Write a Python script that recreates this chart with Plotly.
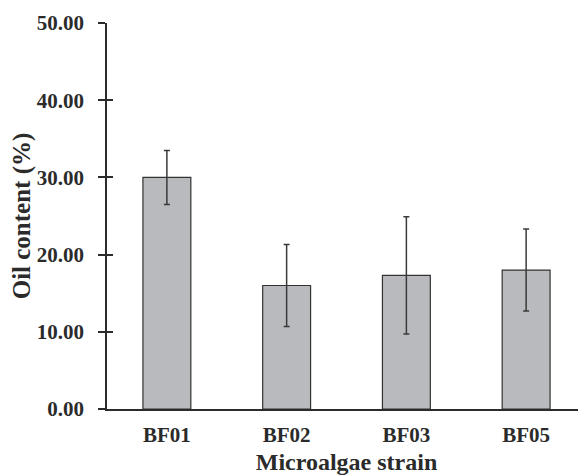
import plotly.graph_objects as go

strains = ["BF01", "BF02", "BF03", "BF05"]
oil_content = [30.0, 16.0, 17.3, 18.0]
oil_error = [3.5, 5.3, 7.6, 5.3]
y_ticks = [0, 10, 20, 30, 40, 50]

FONT = "Liberation Serif"
DARK = "#2b2b2b"

fig = go.Figure()
fig.add_trace(go.Bar(
    x=strains, y=oil_content,
    marker=dict(color="#b9babe", line=dict(color="#333333", width=1.2)),
    width=0.4,
    error_y=dict(type="data", array=oil_error, visible=True,
                 color="#3a3a3a", thickness=1.5, width=3),
))
# invisible trace for inside ticks on overlay axis
fig.add_trace(go.Scatter(x=strains, y=oil_content, yaxis="y2",
                         mode="markers", marker=dict(opacity=0),
                         hoverinfo="skip", showlegend=False))

# page body has an 8px margin, so the figure is sized/offset to compensate
fig.update_layout(
    width=578, height=467,
    margin=dict(l=99, r=0, t=15, b=66, autoexpand=False),
    paper_bgcolor="white", plot_bgcolor="white",
    showlegend=False,
    font=dict(family=FONT, color=DARK),
    xaxis=dict(
        range=[-0.5, 3.5], automargin=False,
        showline=True, linecolor=DARK, linewidth=1.5,
        ticks="", showgrid=False,
        tickfont=dict(family=FONT, size=21, color=DARK, weight="bold"),
        ticklabelstandoff=6,
        title=dict(text="<b>Microalgae strain</b>",
                   font=dict(family=FONT, size=24, color=DARK),
                   standoff=10),
    ),
    yaxis=dict(
        range=[0, 50], tickvals=y_ticks, tickformat=".2f", automargin=False,
        showline=True, linecolor=DARK, linewidth=1.5,
        ticks="outside", ticklen=7, tickwidth=1.5, tickcolor=DARK,
        showgrid=False, zeroline=False,
        tickfont=dict(family=FONT, size=21, color=DARK, weight="bold"),
        ticklabelstandoff=10,
        title=dict(text="<b>Oil content (%)</b>",
                   font=dict(family=FONT, size=25, color=DARK),
                   standoff=0),
    ),
    yaxis2=dict(
        range=[0, 50], tickvals=y_ticks, overlaying="y", side="left",
        showline=False, ticks="inside", ticklen=6, tickwidth=1.5,
        tickcolor=DARK, showticklabels=False, showgrid=False, zeroline=False,
    ),
)

fig.write_html("out.html")
